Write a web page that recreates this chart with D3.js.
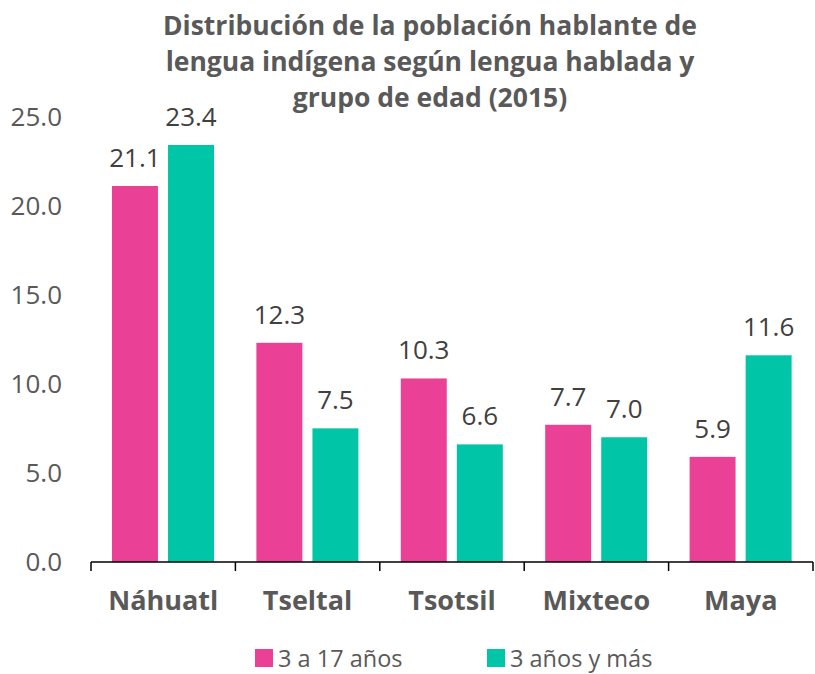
<!DOCTYPE html>
<html><head><meta charset="utf-8">
<script src="https://cdn.jsdelivr.net/npm/d3@7"></script>
<style>body{margin:0;background:#fff}svg{display:block}</style>
</head><body>
<svg id="c" width="815" height="674"></svg>
<script>
const categories = ["Náhuatl", "Tseltal", "Tsotsil", "Mixteco", "Maya"];
const seriesNames = ["3 a 17 años", "3 años y más"];
const values3a17 = [21.1, 12.3, 10.3, 7.7, 5.9];
const values3ymas = [23.4, 7.5, 6.6, 7.0, 11.6];
const yTicks = [0, 5, 10, 15, 20, 25];
const titleLines = ["Distribución de la población hablante de", "lengua indígena según lengua hablada y", "grupo de edad (2015)"];
const colors = ["#EA4196", "#00C5A6"];

(function () {
const font = "'Open Sans', sans-serif";
const svg = d3.select("#c");
const pLeft = 91, pRight = 813, pTop = 116.5, pBottom = 562;

const x = d3.scaleBand().domain(categories).range([pLeft, pRight]).paddingInner(0).paddingOuter(0);
const inner = d3.scaleBand().domain([0, 1]).range([21, 123]).paddingInner(0.18);
const y = d3.scaleLinear().domain([0, 25]).range([pBottom, pTop]);

// title
svg.append("g").selectAll("text").data(titleLines).join("text")
  .attr("x", 430).attr("y", (d, i) => 35 + i * 36)
  .attr("text-anchor", "middle").attr("font-family", font).attr("font-weight", "bold")
  .attr("font-size", 26.5).attr("fill", "#595959").text(d => d);

// y labels
svg.append("g").selectAll("text").data(yTicks).join("text")
  .attr("x", 62).attr("y", d => y(d)).attr("dy", "0.35em")
  .attr("text-anchor", "end").attr("font-family", font).attr("font-size", 26)
  .attr("fill", "#595959").text(d => d.toFixed(1));

const series = [values3a17, values3ymas];
categories.forEach((c, ci) => {
  series.forEach((vals, si) => {
    const bx = x(c) + inner(si);
    const v = vals[ci];
    svg.append("rect").attr("x", bx).attr("y", y(v)).attr("width", inner.bandwidth())
      .attr("height", y(0) - y(v)).attr("fill", colors[si]);
    svg.append("text").attr("x", bx + inner.bandwidth() / 2).attr("y", y(v) - 19)
      .attr("text-anchor", "middle").attr("font-family", font).attr("font-size", 26)
      .attr("fill", "#404040").text(v.toFixed(1));
  });
});

// x axis
const xAxis = d3.axisBottom(x).tickSize(0).tickFormat(d => d);
const ax = svg.append("g").attr("transform", `translate(0,${pBottom})`).call(xAxis);
ax.select(".domain").attr("stroke", "#000").attr("stroke-width", 1.5).attr("d", `M${pLeft},0H${pRight}`);
ax.selectAll(".tick text").attr("font-family", font).attr("font-weight", "bold").attr("font-size", 27)
  .attr("fill", "#595959").attr("dy", 0).attr("y", 48);
const bounds = categories.map(c => x(c)).concat([pRight]);
ax.selectAll("line.bd").data(bounds).join("line").attr("class", "bd")
  .attr("x1", d => d).attr("x2", d => d).attr("y1", 0).attr("y2", 9)
  .attr("stroke", "#000").attr("stroke-width", 1.5);

// legend
const legX = [255, 487];
const lg = svg.append("g").selectAll("g").data(seriesNames).join("g")
  .attr("transform", (d, i) => `translate(${legX[i]},649)`);
lg.append("rect").attr("width", 18).attr("height", 18).attr("fill", (d, i) => colors[i]);
lg.append("text").attr("x", 23).attr("y", 17.5).attr("font-family", font).attr("font-size", 23.5)
  .attr("fill", "#595959").text(d => d);
})();
</script>
</body></html>
